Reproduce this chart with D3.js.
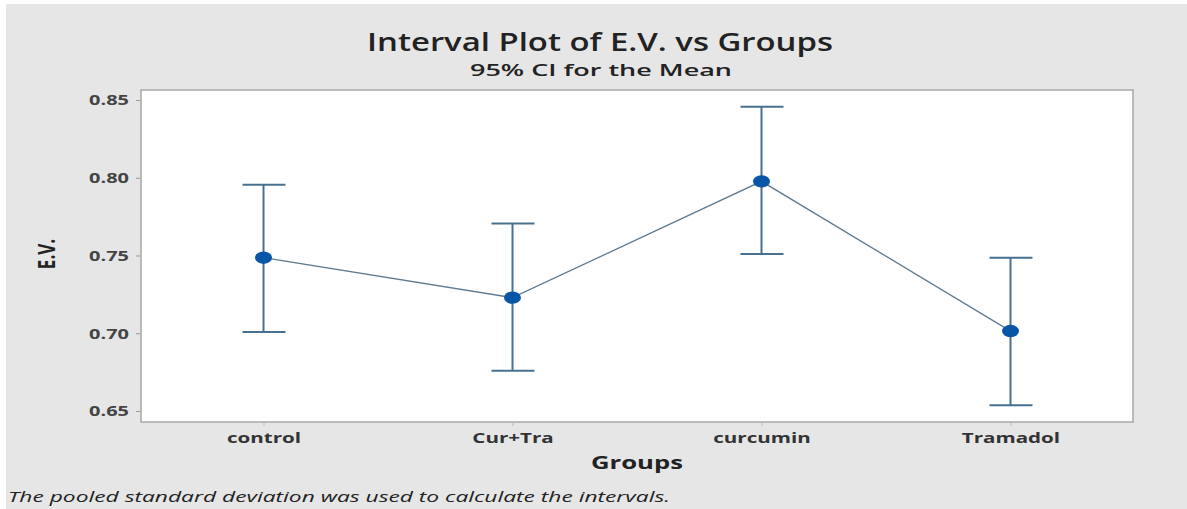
<!DOCTYPE html>
<html>
<head>
<meta charset="utf-8">
<script src="https://cdn.jsdelivr.net/npm/d3@7"></script>
<style>
  body { margin: 0; background: #fff; }
  svg { display: block; font-family: "Open Sans", sans-serif; }
</style>
</head>
<body>
<div id="chart"></div>
<script>
// datos
const groups = ["control", "Cur+Tra", "curcumin", "Tramadol"];
const means = [0.7486, 0.7229, 0.7977, 0.7014];
const lower = [0.7008, 0.6759, 0.7510, 0.6537];
const upper = [0.7955, 0.7705, 0.8457, 0.7486];
const yTicks = [0.65, 0.70, 0.75, 0.80, 0.85];

const width = 1187;
const height = 509;
const plot = { left: 141, top: 90, right: 1133, bottom: 422 };
const stretchX = 1.33; // la imagen original esta estirada en horizontal

const svg = d3.select("div#chart")
  .append("svg")
  .attr("width", width)
  .attr("height", height);

// estira el texto en horizontal
function stretch(sel, k) {
  sel.each(function () {
    const len = this.getComputedTextLength();
    d3.select(this)
      .attr("textLength", len * k)
      .attr("lengthAdjust", "spacingAndGlyphs");
  });
}

// fondo gris
svg.append("rect")
  .attr("x", 6).attr("y", 4)
  .attr("width", width - 6).attr("height", height - 4)
  .attr("fill", "#e6e6e6");

svg.append("rect")
  .attr("x", plot.left).attr("y", plot.top)
  .attr("width", plot.right - plot.left).attr("height", plot.bottom - plot.top)
  .attr("fill", "#fff")
  .attr("stroke", "#a8a8a8")
  .attr("stroke-width", 1.5);

// escalas
const x = d3.scalePoint()
  .domain(groups)
  .range([plot.left, plot.right])
  .padding(0.492);

const y = d3.scaleLinear()
  .domain([0.65, 0.85])
  .range([411, 100]);

// ejes
const yAxis = d3.axisLeft(y).tickValues(yTicks).tickFormat(d3.format(".2f")).tickSize(4).tickPadding(7);
const yAxisGroup = svg.append("g")
  .attr("transform", `translate(${plot.left - 1}, 0)`)
  .call(yAxis);
yAxisGroup.select(".domain").remove();
yAxisGroup.selectAll("line").attr("stroke", "#999");
yAxisGroup.selectAll("text")
  .attr("font-size", 15).attr("font-weight", "bold").attr("fill", "#444")
  .attr("font-family", "Open Sans, sans-serif")
  .call(stretch, stretchX);

const xAxis = d3.axisBottom(x).tickSize(3).tickPadding(6);
const xAxisGroup = svg.append("g")
  .attr("transform", `translate(0, ${plot.bottom + 1})`)
  .call(xAxis);
xAxisGroup.select(".domain").remove();
xAxisGroup.selectAll("line").attr("stroke", "#bbb");
xAxisGroup.selectAll("text")
  .attr("font-size", 15).attr("font-weight", "bold").attr("fill", "#333")
  .attr("font-family", "Open Sans, sans-serif")
  .call(stretch, 1.37);

// linea de medias
const line = d3.line()
  .x((d, i) => x(groups[i]))
  .y((d) => y(d));

svg.append("path")
  .datum(means)
  .attr("d", line)
  .attr("fill", "none")
  .attr("stroke", "#5f7a8e")
  .attr("stroke-width", 1.3);

// intervalos
const bars = svg.selectAll("g.interval")
  .data(groups)
  .enter()
  .append("g")
  .attr("class", "interval")
  .attr("stroke", "#48708f")
  .attr("stroke-width", 2);

bars.append("line")
  .attr("x1", (d) => x(d)).attr("x2", (d) => x(d))
  .attr("y1", (d, i) => y(lower[i])).attr("y2", (d, i) => y(upper[i]));
bars.append("line")
  .attr("x1", (d) => x(d) - 21).attr("x2", (d) => x(d) + 22)
  .attr("y1", (d, i) => y(upper[i])).attr("y2", (d, i) => y(upper[i]));
bars.append("line")
  .attr("x1", (d) => x(d) - 21).attr("x2", (d) => x(d) + 22)
  .attr("y1", (d, i) => y(lower[i])).attr("y2", (d, i) => y(lower[i]));

svg.selectAll("ellipse.mean")
  .data(means)
  .enter()
  .append("ellipse")
  .attr("class", "mean")
  .attr("cx", (d, i) => x(groups[i]))
  .attr("cy", (d) => y(d))
  .attr("rx", 8.5)
  .attr("ry", 6.2)
  .attr("fill", "#0a56a6");

// textos
svg.append("text")
  .attr("x", 600).attr("y", 51)
  .attr("text-anchor", "middle")
  .attr("font-size", 25).attr("fill", "#222")
  .attr("font-weight", 600)
  .text("Interval Plot of E.V. vs Groups")
  .attr("textLength", 466)
  .attr("lengthAdjust", "spacingAndGlyphs");

svg.append("text")
  .attr("x", 601).attr("y", 76)
  .attr("text-anchor", "middle")
  .attr("font-size", 17).attr("fill", "#222")
  .attr("font-weight", 600)
  .text("95% CI for the Mean")
  .attr("textLength", 262)
  .attr("lengthAdjust", "spacingAndGlyphs");

svg.append("text")
  .attr("transform", `translate(47, 254) scale(1.37, 1) rotate(-90)`)
  .attr("text-anchor", "middle")
  .attr("dy", "0.35em")
  .attr("font-size", 17).attr("font-weight", "bold").attr("fill", "#222")
  .text("E.V.");

svg.append("text")
  .attr("x", 637).attr("y", 469)
  .attr("text-anchor", "middle")
  .attr("font-size", 18).attr("font-weight", "bold").attr("fill", "#222")
  .text("Groups")
  .attr("textLength", 92)
  .attr("lengthAdjust", "spacingAndGlyphs");

svg.append("text")
  .attr("x", 8).attr("y", 502)
  .attr("font-size", 14).attr("font-style", "italic").attr("fill", "#222")
  .text("The pooled standard deviation was used to calculate the intervals.")
  .attr("textLength", 662)
  .attr("lengthAdjust", "spacingAndGlyphs");
</script>
</body>
</html>
